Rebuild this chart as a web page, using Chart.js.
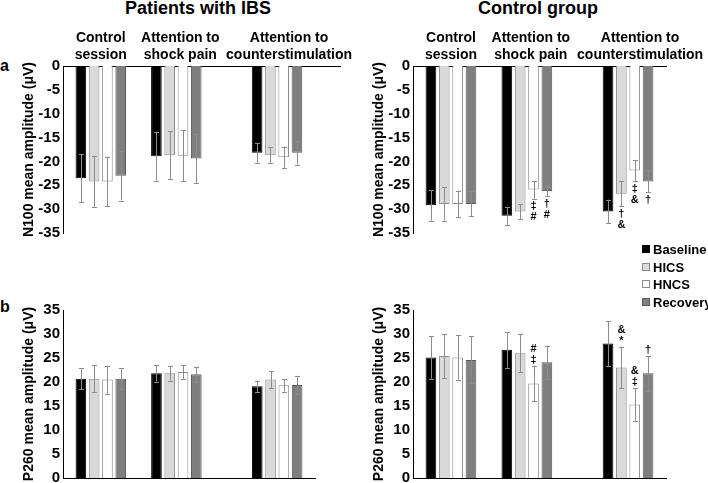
<!DOCTYPE html>
<html>
<head>
<meta charset="utf-8">
<script src="https://cdn.jsdelivr.net/npm/chart.js@4"></script>
<style>
  html, body { margin: 0; padding: 0; background: #fff; overflow: hidden; }
  #page { position: relative; width: 708px; height: 483px; overflow: hidden; font-family: Arial, "Liberation Sans", sans-serif; font-weight: bold; color: #000; }
  canvas, .txt { position: absolute; }
  .head { font-size: 18px; line-height: 20px; top: -2px; transform: translateX(-50%); white-space: nowrap; }
  .panel { font-size: 16px; line-height: 18px; left: 0; }
  #legend { position: absolute; left: 642px; top: 241px; font-size: 13px; }
  #legend div { height: 17.7px; line-height: 17.7px; white-space: nowrap; }
  #legend span { display: inline-block; width: 6px; height: 6px; margin-right: 3px; border: 1px solid; vertical-align: 1px; }
</style>
</head>
<body>
<div id="page">
  <div class="txt head" style="left:198px">Patients with IBS</div>
  <div class="txt head" style="left:538px">Control group</div>
  <div class="txt panel" style="top:57px">a</div>
  <div class="txt panel" style="top:298px">b</div>
  <canvas id="ibsN100" width="354" height="225" style="left:0;top:20px"></canvas>
  <canvas id="ctrlN100" width="358" height="225" style="left:350px;top:20px"></canvas>
  <canvas id="ibsP260" width="354" height="210" style="left:0;top:285px"></canvas>
  <canvas id="ctrlP260" width="358" height="210" style="left:350px;top:285px"></canvas>
  <div id="legend"></div>
</div>
<script>
const groupLines = [["Control", "session"], ["Attention to", "shock pain"], ["Attention to", "counterstimulation"]];
const conditions = ["Baseline", "HICS", "HNCS", "Recovery"];

// rows follow conditions, columns follow groups
const ibsN100Mean = [
  [-23.5, -18.9, -18.2],
  [-24.2, -18.7, -18.7],
  [-24.2, -18.8, -19.1],
  [-23.0, -19.4, -18.2],
];
const ibsN100Err = [
  [5.1, 5.1, 2.1],
  [5.4, 5.0, 1.7],
  [5.2, 5.3, 2.2],
  [5.2, 5.1, 2.5],
];

const ctrlN100Mean = [
  [-29.2, -31.4, -30.5],
  [-28.9, -30.5, -26.8],
  [-28.9, -25.9, -21.9],
  [-28.9, -26.2, -24.2],
];
const ctrlN100Err = [
  [3.2, 1.9, 2.5],
  [3.5, 1.6, 2.6],
  [2.8, 1.9, 2.2],
  [2.6, 1.1, 2.3],
];
const ctrlN100Marks = [
  ["", "", ""],
  ["", "", "†\n&"],
  ["", "‡\n#", "‡\n&"],
  ["", "†\n#", "†"],
];

const ibsP260Mean = [
  [20.7, 21.8, 19.1],
  [20.7, 21.8, 20.5],
  [20.5, 22.1, 19.3],
  [20.7, 21.6, 19.4],
];
const ibsP260Err = [
  [2.2, 1.7, 1.2],
  [2.8, 1.5, 1.8],
  [2.9, 1.4, 1.3],
  [2.2, 1.6, 1.9],
];

const ctrlP260Mean = [
  [25.1, 26.7, 28.0],
  [25.4, 26.0, 23.0],
  [25.1, 19.7, 15.3],
  [24.6, 24.1, 21.8],
];
const ctrlP260Err = [
  [4.4, 3.7, 4.7],
  [4.6, 4.0, 4.3],
  [4.6, 3.7, 3.4],
  [4.9, 3.4, 3.6],
];
const ctrlP260Marks = [
  ["", "", ""],
  ["", "", "&\n*"],
  ["", "#\n‡", "&\n‡"],
  ["", "", "†"],
];

// layout: the x axis is cut into slots, groups sit in some of them
const groupSlots = [1, 4, 8];
const labelShift = [0, 4, 12];
const fills = ["#000000", "#d9d9d9", "#ffffff", "#7f7f7f"];
const borders = ["#000000", "#8c8c8c", "#8c8c8c", "#5a5a5a"];
const FONT = "Arial, 'Liberation Sans', sans-serif";

const errorBarPlugin = {
  id: "errorBars",
  afterDatasetsDraw(chart) {
    const { ctx } = chart;
    const yScale = chart.scales.y;
    ctx.save();
    chart.data.datasets.forEach((ds, di) => {
      const meta = chart.getDatasetMeta(di);
      meta.data.forEach((bar, i) => {
        const g = groupSlots.indexOf(i);
        if (g < 0) return;
        const v = ds.data[i];
        const e = ds.errors[g];
        const yA = yScale.getPixelForValue(v + e);
        const yB = yScale.getPixelForValue(v - e);
        const x = Math.round(bar.x) + 0.5;
        ctx.strokeStyle = "#8c8c8c";
        ctx.lineWidth = 1;
        ctx.beginPath();
        ctx.moveTo(x, yA);
        ctx.lineTo(x, yB);
        ctx.moveTo(x - 2.5, Math.round(yA) + 0.5);
        ctx.lineTo(x + 2.5, Math.round(yA) + 0.5);
        ctx.moveTo(x - 2.5, Math.round(yB) + 0.5);
        ctx.lineTo(x + 2.5, Math.round(yB) + 0.5);
        ctx.stroke();

        const mark = ds.marks ? ds.marks[g] : "";
        if (!mark) return;
        const lines = mark.split("\n");
        ctx.fillStyle = "#000";
        ctx.font = "bold 11px " + FONT;
        ctx.textAlign = "center";
        if (v < 0) {
          ctx.textBaseline = "top";
          lines.forEach((t, k) => ctx.fillText(t, bar.x, yB + 2 + k * 11));
        } else {
          ctx.textBaseline = "alphabetic";
          lines.slice().reverse().forEach((t, k) => ctx.fillText(t, bar.x, yA - 3 - k * 11));
        }
      });
    });
    ctx.restore();
  },
};

const groupLabelPlugin = {
  id: "groupLabels",
  afterDraw(chart, _args, options) {
    if (!options.show) return;
    const { ctx, chartArea } = chart;
    const xScale = chart.scales.x;
    ctx.save();
    ctx.font = "bold 14px " + FONT;
    ctx.fillStyle = "#000";
    ctx.textAlign = "center";
    ctx.textBaseline = "alphabetic";
    groupLines.forEach((lines, g) => {
      const x = xScale.getPixelForValue(groupSlots[g]) + labelShift[g];
      lines.forEach((t, k) => {
        ctx.fillText(t, x, chartArea.top - 7 - (lines.length - 1 - k) * 17);
      });
    });
    ctx.restore();
  },
};

function makePanel(id, cfg) {
  const labels = Array.from({ length: cfg.slots }, (_, i) => {
    const g = groupSlots.indexOf(i);
    return g >= 0 ? groupLines[g].join(" ") : "";
  });
  const datasets = conditions.map((name, s) => ({
    label: name,
    data: labels.map((_, i) => {
      const g = groupSlots.indexOf(i);
      return g >= 0 ? cfg.mean[s][g] : null;
    }),
    errors: cfg.err[s],
    marks: cfg.marks ? cfg.marks[s] : null,
    backgroundColor: fills[s],
    borderColor: borders[s],
    borderWidth: 1,
    categoryPercentage: 2.11,
    barPercentage: 0.8,
  }));

  const negative = cfg.min < 0;
  return new Chart(document.getElementById(id), {
    type: "bar",
    data: { labels, datasets },
    plugins: [errorBarPlugin, groupLabelPlugin],
    options: {
      responsive: false,
      animation: false,
      devicePixelRatio: 1,
      layout: { padding: cfg.padding },
      plugins: {
        legend: { display: false },
        tooltip: { enabled: false },
        groupLabels: { show: negative },
      },
      scales: {
        x: {
          position: negative ? "top" : "bottom",
          grid: { display: false, drawTicks: false },
          ticks: { display: false },
          border: { color: "#000", width: 1 },
          afterFit(scale) { scale.height = 0; },
        },
        y: {
          min: cfg.min,
          max: cfg.max,
          grid: { display: false, drawTicks: false },
          border: { color: "#000", width: 1 },
          ticks: {
            stepSize: 5,
            padding: 3,
            color: "#000",
            font: { family: FONT, size: 15, weight: "bold" },
          },
          title: {
            display: true,
            text: cfg.title,
            color: "#000",
            padding: { top: 21, bottom: 0 },
            font: { family: FONT, size: 14, weight: "bold" },
          },
          afterFit(scale) { scale.width = 63; },
        },
      },
    },
  });
}

makePanel("ibsN100", {
  slots: 11, mean: ibsN100Mean, err: ibsN100Err, min: -35, max: 0,
  title: "N100 mean amplitude (μV)",
  padding: { top: 46, bottom: 12, left: 0, right: 14 },
});
makePanel("ctrlN100", {
  slots: 10, mean: ctrlN100Mean, err: ctrlN100Err, marks: ctrlN100Marks, min: -35, max: 0,
  title: "N100 mean amplitude (μV)",
  padding: { top: 46, bottom: 12, left: 0, right: 42 },
});
makePanel("ibsP260", {
  slots: 10, mean: ibsP260Mean, err: ibsP260Err, min: 0, max: 35,
  title: "P260 mean amplitude (μV)",
  padding: { top: 25, bottom: 17, left: 0, right: 39 },
});
makePanel("ctrlP260", {
  slots: 10, mean: ctrlP260Mean, err: ctrlP260Err, marks: ctrlP260Marks, min: 0, max: 35,
  title: "P260 mean amplitude (μV)",
  padding: { top: 25, bottom: 17, left: 0, right: 42 },
});

const legend = document.getElementById("legend");
conditions.forEach((name, s) => {
  const row = document.createElement("div");
  const box = document.createElement("span");
  box.style.background = fills[s];
  box.style.borderColor = borders[s];
  row.appendChild(box);
  row.appendChild(document.createTextNode(name));
  legend.appendChild(row);
});
</script>
</body>
</html>
